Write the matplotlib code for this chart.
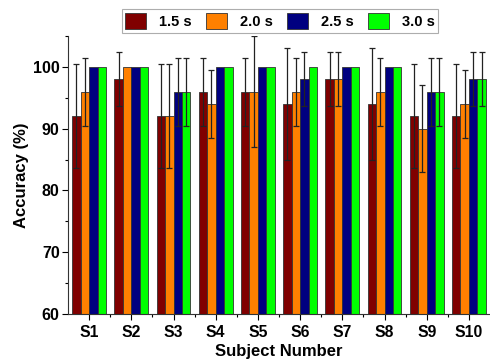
import matplotlib
matplotlib.use("Agg")
import matplotlib.pyplot as plt
import numpy as np
from matplotlib.ticker import FixedLocator

plt.rcParams['font.family'] = ['Liberation Sans', 'DejaVu Sans']
plt.rcParams['font.weight'] = 'bold'

subjects = ["S1", "S2", "S3", "S4", "S5", "S6", "S7", "S8", "S9", "S10"]
series_labels = ["1.5 s", "2.0 s", "2.5 s", "3.0 s"]
acc_15 = [92, 98, 92, 96, 96, 94, 98, 94, 92, 92]
acc_20 = [96, 100, 92, 94, 96, 96, 98, 96, 90, 94]
acc_25 = [100, 100, 96, 100, 100, 98, 100, 100, 96, 98]
acc_30 = [100, 100, 96, 100, 100, 100, 100, 100, 96, 98]
err_15 = [8.4, 4.4, 8.4, 5.5, 5.5, 9.0, 4.4, 9.0, 8.4, 8.4]
err_20 = [5.5, 0, 8.4, 5.5, 9.0, 5.5, 4.4, 5.5, 7.0, 5.5]
err_25 = [0, 0, 5.5, 0, 0, 4.4, 0, 0, 5.5, 4.4]
err_30 = [0, 0, 5.5, 0, 0, 0, 0, 0, 5.5, 4.4]
colors = ["#800000", "#FF8000", "#000080", "#00FF00"]

values = [acc_15, acc_20, acc_25, acc_30]
errors = [err_15, err_20, err_25, err_30]

fig = plt.figure(figsize=(4.9, 3.62), dpi=100)
ax = fig.add_axes([68/490, 1-314/362, 1-68/490, (314-36)/362])

x = np.arange(1, len(subjects)+1)
w = 0.2
handles = []
for i in range(4):
    pos = x + (i - 1.5) * w
    b = ax.bar(pos, values[i], width=w, color=colors[i], edgecolor="#333333",
               linewidth=0.6, label=series_labels[i], zorder=2)
    handles.append(b)
    yerr = np.array(errors[i])
    mask = yerr > 0
    ax.errorbar(pos[mask], np.array(values[i])[mask], yerr=yerr[mask], fmt='none',
                ecolor='#222222', elinewidth=0.9, capsize=2.5, capthick=0.9, zorder=3)

ax.set_xlim(0.5, 10.5)
ax.set_ylim(60, 105)
ax.set_xticks(x)
ax.set_xticklabels(subjects, fontsize=11.3, fontweight='bold')
ax.xaxis.set_minor_locator(FixedLocator(np.arange(1.5, 10.5, 1)))
ax.yaxis.set_major_locator(FixedLocator([60, 70, 80, 90, 100]))
ax.yaxis.set_minor_locator(FixedLocator([65, 75, 85, 95, 105]))
for lab in ax.get_yticklabels():
    lab.set_fontsize(11.5)
    lab.set_fontweight('bold')
ax.tick_params(axis='both', which='major', direction='out', length=4, width=0.8, pad=2)
ax.tick_params(axis='x', which='major', pad=4)
ax.tick_params(axis='both', which='minor', direction='out', length=2.5, width=0.8)

ax.spines['top'].set_visible(False)
ax.spines['right'].set_visible(False)
ax.spines['left'].set_color('#333333')
ax.spines['bottom'].set_color('#333333')

ax.set_xlabel("Subject Number", fontsize=12, fontweight='bold', labelpad=3)
ax.set_ylabel("Accuracy (%)", fontsize=12, fontweight='bold', labelpad=3)

leg = fig.legend(handles=handles, labels=series_labels, loc='center',
                 bbox_to_anchor=(280/490, 1-21/362), ncol=4, frameon=True,
                 fancybox=False, edgecolor='#999999',
                 prop={'weight': 'bold', 'size': 10.5},
                 handlelength=1.4, handleheight=1.4, handletextpad=0.9,
                 columnspacing=1.0, borderpad=0.25, borderaxespad=0)
leg.get_frame().set_linewidth(0.8)

fig.savefig("out.png", dpi=100)
